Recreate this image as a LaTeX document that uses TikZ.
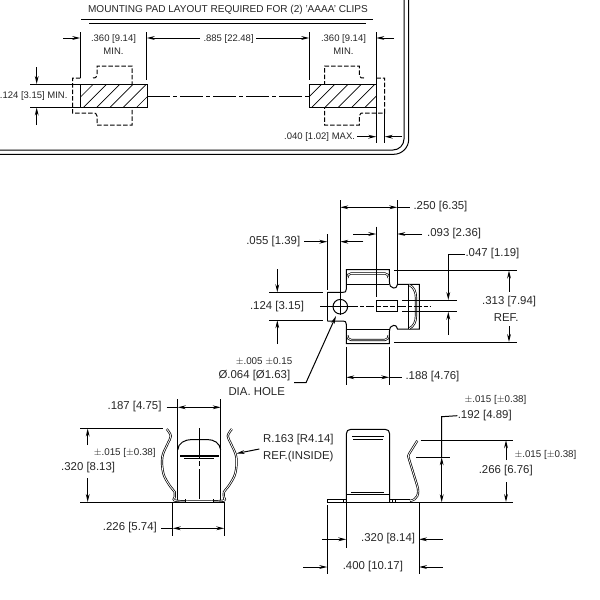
\documentclass[tikz,border=0pt]{standalone}
\usepackage{fontspec}
\setmainfont{Liberation Sans}
\usetikzlibrary{arrows.meta}
\tikzset{
  padtxt/.style={inner sep=0pt,text=black!85,font=\fontsize{9.5}{11}\selectfont},
  dimtxt/.style={inner sep=0pt,text=black!85,font=\fontsize{11.4}{13}\selectfont},
  toltxt/.style={inner sep=0pt,text=black!85,font=\fontsize{9.8}{11}\selectfont},
  centerline/.style={dash pattern=on 23pt off 3pt on 4pt off 3pt},
  padedge/.style={dash pattern=on 4.5pt off 2pt},
  clipline/.style={line width=0.7pt,double=white,double distance=0.8pt},
}
\begin{document}
\begin{tikzpicture}[x=1pt,y=-1pt,line width=1pt,>={Stealth[length=8pt,width=3.8pt]}]
\useasboundingbox (0,0) rectangle (600,600);
% board outline
\draw (0,150) -- (393,150) arc (90:0:11) -- (404,0);
\draw (0,154.3) -- (393.7,154.3) arc (90:0:15) -- (408.7,0);
\node[padtxt,font=\fontsize{10.05}{12}\selectfont] (title) at (228,10) {MOUNTING PAD LAYOUT REQUIRED FOR (2) 'AAAA' CLIPS};
\draw (81,19) -- (373,19);
\draw (89,23.5) -- (366,23.5);
% pads
\foreach \px/\hx/\tx in {80.3/70/97,309.3/298.3/324.7}{
  \begin{scope}
    \clip (\px,84) rectangle +(67,23.5);
    \foreach \k in {0,...,6}
      \draw[line width=0.7pt] ({\hx+13.3*\k},107.5) -- +(23.5,-23.5);
  \end{scope}
  \draw (\px,84) rectangle +(67,23.5);
}
\draw[padedge] (80.3,78) -- (72.5,78) -- (72.5,113) -- (93,113) .. controls (96,113) .. (97,116) -- (97,125) -- (132,125) -- (132,107.5);
\draw[padedge] (93,78) .. controls (96,78) .. (97,75) -- (97,66) -- (132,66) -- (132,84);
\draw[padedge] (376.3,78) -- (384.7,78) -- (384.7,113) -- (364,113) .. controls (360.5,113) .. (359.3,116) -- (359.3,125) -- (324.7,125) -- (324.7,107.5);
\draw[padedge] (364,78) .. controls (360.5,78) .. (359.3,75) -- (359.3,66) -- (324.7,66) -- (324.7,84);
\draw[centerline] (147.3,96.7) -- (309.3,96.7);
% pad dimensions
\draw (80.3,32) -- (80.3,78);
\draw (146.7,32) -- (146.7,80);
\draw (309.3,32) -- (309.3,80);
\draw (376.3,32) -- (376.3,84);
\draw (376.3,107.5) -- (376.3,143);
\draw (384.7,113) -- (384.7,143);
\draw[->] (63,38) -- (80.3,38);
\draw[->] (200,38) -- (146.7,38);
\draw[->] (256,38) -- (309.3,38);
\draw[->] (394,38) -- (376.3,38);
\node[padtxt] (padw1) at (113.5,38.7) {.360 [9.14]};
\node[padtxt] (padm1) at (113.5,51.7) {MIN.};
\node[padtxt,anchor=west] (gap) at (203,38.7) {.885 [22.48]};
\node[padtxt] (padw2) at (343.5,38.7) {.360 [9.14]};
\node[padtxt] (padm2) at (343.5,51.7) {MIN.};
\node[padtxt,anchor=east] (padh) at (68,96) {.124 [3.15] MIN.};
\draw (30,84) -- (80.3,84);
\draw (30,107.5) -- (80.3,107.5);
\draw[->] (36.7,67) -- (36.7,84);
\draw[->] (36.7,125) -- (36.7,107.5);
\node[padtxt,anchor=east] (edge) at (355.5,136.7) {.040 [1.02] MAX.};
\draw[->] (357,136.7) -- (376.3,136.7);
\draw[->] (402,136.7) -- (384.7,136.7);
% top view
\foreach \sh/\ys in {0/1,613.4/-1}{
  \begin{scope}[shift={(0,\sh)},yscale=\ys]
    \draw (327.3,292.3) -- (343,292.3) .. controls (345.5,292.3) .. (346.3,289) -- (346.3,269.7) -- (389.3,269.7) -- (389.3,280)
      .. controls (389.3,286) and (391,288) .. (393.5,288) .. controls (396,288) .. (397.5,284.3) -- (419.3,284.3) -- (419.3,306.7);
    \draw (346.3,284.3) -- (389.3,284.3);
    \draw[clipline] (347.5,278) .. controls (348,274.5) .. (351,273.5) -- (385,273.5) .. controls (388,274.5) .. (388.5,278);
    \draw[clipline] (409,284.8) .. controls (414,287) and (416,292) .. (416,298) -- (416,306.7);
  \end{scope}
}
\draw (327.3,292.3) -- (327.3,321.1);
\draw (408.3,284.3) -- (408.3,329.1);
\draw (340.3,306.7) circle (7.3);
\draw (340.3,200) -- (340.3,315);
\draw (320,306.7) -- (350,306.7);
\draw[dash pattern=on 8pt off 2pt on 4pt off 2pt] (350,306.7) -- (376.3,306.7);
\draw[dash pattern=on 8pt off 2pt on 4pt off 2pt] (397.5,306.7) -- (430,306.7);
\draw (376.3,300) rectangle (397.3,311.7);
\draw[dash pattern=on 5pt off 2pt] (376.3,306.7) -- (397.3,306.7);
% top view dimensions
\draw (397.3,200) -- (397.3,285);
\draw (327.3,234) -- (327.3,290);
\draw (376.3,226.7) -- (376.3,296.7);
\draw[<->] (340.3,207.3) -- (397.3,207.3);
\draw (397.3,207.3) -- (410,207.3);
\node[dimtxt,anchor=west] (wid) at (413,207) {.250 [6.35]};
\draw[->] (304,241.7) -- (327.3,241.7);
\draw[->] (363.3,241.7) -- (340.3,241.7);
\node[dimtxt,anchor=east] (holex) at (300.7,242) {.055 [1.39]};
\draw[->] (353,234) -- (376.3,234);
\draw[->] (422,234) -- (397.3,234);
\node[dimtxt,anchor=west] (slotx) at (426.7,234) {.093 [2.36]};
\draw (269.3,292.3) -- (322.7,292.3);
\draw (269.3,320.3) -- (322.7,320.3);
\draw[->] (277.3,269) -- (277.3,292.3);
\draw[->] (277.3,344) -- (277.3,320.3);
\node[dimtxt] (neck) at (277,306.3) {.124 [3.15]};
\draw (402,300) -- (456.7,300);
\draw (402,311.7) -- (456.7,311.7);
\node[dimtxt,anchor=west] (slot) at (465,254) {.047 [1.19]};
\draw[->] (slot.west) -- (448.3,254) -- (448.3,300);
\draw[->] (448.3,335) -- (448.3,311.7);
\draw (394.3,270.3) -- (517,270.3);
\draw (394.3,342.3) -- (517,342.3);
\draw[->] (509,291.7) -- (509,270.5);
\draw[->] (509,326) -- (509,342);
\node[dimtxt,anchor=west] (refw) at (481.7,301.7) {.313 [7.94]};
\node[dimtxt,anchor=east] (refm) at (519,317.7) {REF.};
\draw (346.3,346.7) -- (346.3,385);
\draw (389.3,346.7) -- (389.3,385);
\draw[<->] (346.3,377.3) -- (389.3,377.3);
\draw (389.3,377.3) -- (401.7,377.3);
\node[dimtxt,anchor=west] (tab) at (405,377) {.188 [4.76]};
\node[toltxt,anchor=east] (holetol) at (292.7,361) {$\pm$.005 $\pm$0.15};
\node[dimtxt,anchor=east] (hole) at (290.7,376) {Ø.064 [Ø1.63]};
\node[dimtxt,anchor=west] (holedia) at (228,391.7) {DIA. HOLE};
\draw[->] (294,382.7) -- (306,382.7) -- (336,316);
% front view
\draw[clipline] plot[smooth,tension=0.6] coordinates {(166.7,429) (170.8,436) (167.5,444) (162.3,457) (163.3,473.3) (169.3,485) (174.7,492) (174.7,497) (178,501) (220.6,501) (223.9,497) (223.9,492) (229.3,485) (235.3,473.3) (236.3,457) (231.1,444) (227.8,436) (231.9,429)};
\draw (177.7,399) -- (177.7,500);
\draw (220.7,399) -- (220.7,500);
\draw (177.7,450) .. controls (178,443) and (185,439.5) .. (192,439.5) -- (207,439.5) .. controls (214,439.5) and (220,443) .. (220.7,450);
\draw[line width=1.4pt] (180,456) -- (219,456);
\draw (184,458.5) -- (214,458.5);
\draw[dash pattern=on 30pt off 3pt on 5pt off 3pt] (199.3,428) -- (199.3,502);
\draw (185,499) -- (185,502);
\draw (213,499) -- (213,502);
% front view dimensions
\draw[<->] (177.7,407.3) -- (220.7,407.3);
\draw (166.7,407.3) -- (177.7,407.3);
\node[dimtxt,anchor=east] (inner) at (162,407) {.187 [4.75]};
\draw (80,428.3) -- (162.7,428.3);
\draw (80,502.3) -- (224.3,502.3);
\draw[->] (87.7,445) -- (87.7,428.5);
\draw[->] (87.7,478) -- (87.7,502);
\node[dimtxt,anchor=west] (high) at (60.7,467.7) {.320 [8.13]};
\node[toltxt,anchor=west] (hightol) at (93.3,452.7) {$\pm$.015 [$\pm$0.38]};
\draw (172.7,502.3) -- (172.7,535.7);
\draw (224.3,502.3) -- (224.3,535.7);
\draw[<->] (172.7,528.3) -- (224.3,528.3);
\draw (161,528.3) -- (172.7,528.3);
\node[dimtxt,anchor=east] (base) at (157.3,528) {.226 [5.74]};
\node[dimtxt,anchor=west] (rad) at (262.7,440) {R.163 [R4.14]};
\node[dimtxt,anchor=west] (radref) at (262.7,456.7) {REF.(INSIDE)};
\draw[->] (259.3,449) -- (236.5,453.5);
% side view
\draw (346.3,502.3) -- (346.3,434) .. controls (346.3,431) and (348,429.3) .. (351,429.3) -- (385,429.3) .. controls (388,429.3) and (389.7,431) .. (389.7,434) -- (389.7,502.3);
\draw[line width=1.4pt] (352.3,436.7) -- (384,436.7);
\draw (353.3,439) -- (382.7,439);
\draw[line width=1.4pt] (350.7,492.3) -- (384,492.3);
\draw (346.3,494.7) -- (389.7,494.7);
\draw (327.3,499.3) rectangle (346.3,502.3);
\draw (389.7,499.3) -- (410,499.3);
\draw (327.3,502.3) -- (513,502.3);
\draw (343.3,499.3) -- (343.3,502.3);
\draw (392.7,499.3) -- (392.7,502.3);
\draw (395.7,499.3) -- (395.7,502.3);
\draw[clipline] (417.3,440.7) -- (409,454) .. controls (408,456) .. (409,459) -- (417,485) .. controls (420,494) and (417,500) .. (410,500.8);
% side view dimensions
\draw (420.7,440) -- (513.3,440);
\draw (416,457.3) -- (450,457.3);
\node[dimtxt,anchor=west] (flex) at (457.3,415.7) {.192 [4.89]};
\node[toltxt,anchor=west] (flextol) at (464,400.3) {$\pm$.015 [$\pm$0.38]};
\draw (flex.west) -- (441.7,416.7) -- (441.7,457.3);
\draw[<->] (441.7,457.3) -- (441.7,502.3);
\draw[->] (506,460) -- (506,440.2);
\draw[->] (506,482) -- (506,502);
\node[dimtxt,anchor=west] (tall) at (478.3,470.7) {.266 [6.76]};
\node[toltxt,anchor=west] (talltol) at (514,455.3) {$\pm$.015 [$\pm$0.38]};
\draw (346.3,502.3) -- (346.3,547.7);
\draw (419,502.3) -- (419,574.3);
\draw (327.3,505) -- (327.3,574.3);
\draw[->] (322.3,539.3) -- (346.3,539.3);
\draw[->] (442.7,539.3) -- (419,539.3);
\node[dimtxt,anchor=west] (span) at (360.7,539) {.320 [8.14]};
\draw[->] (303,567) -- (327.3,567);
\draw[->] (442.7,567) -- (419,567);
\node[dimtxt,anchor=west] (full) at (342.3,567) {.400 [10.17]};
\end{tikzpicture}
\end{document}
